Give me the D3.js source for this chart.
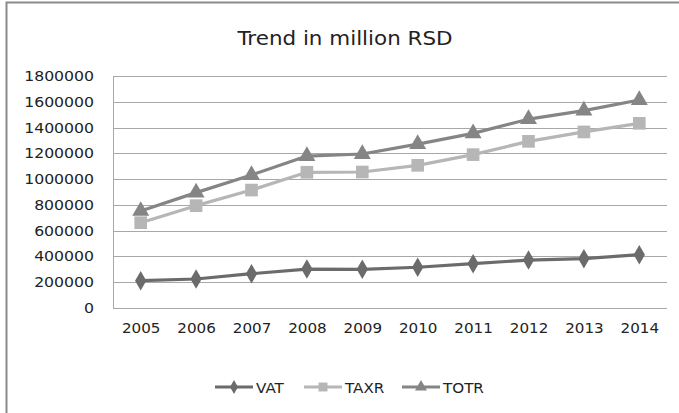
<!DOCTYPE html>
<html><head><meta charset="utf-8">
<script src="https://cdn.jsdelivr.net/npm/d3@7"></script>
<style>body{margin:0;background:#fff}svg{display:block}text{font-family:"DejaVu Sans",sans-serif;fill:#222}</style>
</head><body><div id="chart"></div>
<script>
const years = ["2005","2006","2007","2008","2009","2010","2011","2012","2013","2014"];
const vat  = [212000,225000,266000,302000,300000,316000,344000,372000,383000,414000];
const taxr = [662000,794000,915000,1053000,1055000,1107000,1190000,1293000,1366000,1433000];
const totr = [753000,895000,1032000,1179000,1195000,1272000,1355000,1465000,1531000,1614000];
const yTicks = [0,200000,400000,600000,800000,1000000,1200000,1400000,1600000,1800000];
const seriesNames = ["VAT","TAXR","TOTR"];

const W=679,H=413;
const svg=d3.select("#chart").append("svg").attr("width",W).attr("height",H);
svg.append("rect").attr("width",W).attr("height",H).attr("fill","#fff");
svg.append("path").attr("d","M6.5,413 V2.5 H679").attr("fill","none").attr("stroke","#8a8a8a").attr("stroke-width",2);

const L=113,R=667,T=76,B=308;
const x=d3.scalePoint().domain(years).range([L,R]).padding(0.5);
const y=d3.scaleLinear().domain([0,1800000]).range([B,T]);

function stretch(sel,f){sel.each(function(){const w=this.getComputedTextLength();d3.select(this).attr("textLength",w*f).attr("lengthAdjust","spacingAndGlyphs");});}

const gy=svg.append("g").attr("transform",`translate(${L},0)`)
 .call(d3.axisLeft(y).tickValues(yTicks).tickSize(-(R-L)).tickFormat(d=>String(d)).tickPadding(19));
gy.select(".domain").remove();
gy.selectAll(".tick line").attr("stroke","#a8a8a8").attr("stroke-width",1).attr("shape-rendering","crispEdges");
gy.selectAll(".tick text").attr("font-size",14).attr("fill","#262626").style("font-family","DejaVu Sans").call(stretch,1.12);
svg.append("line").attr("x1",L+0.5).attr("x2",L+0.5).attr("y1",T).attr("y2",B).attr("stroke","#a8a8a8");

const gx=svg.append("g").attr("transform",`translate(0,${B})`).call(d3.axisBottom(x).tickSize(0).tickPadding(15));
gx.select(".domain").attr("stroke","#a8a8a8").attr("d",`M${L},0.5H${R}`);
gx.selectAll(".tick text").attr("font-size",14).attr("fill","#262626").style("font-family","DejaVu Sans").call(stretch,1.08);

svg.append("text").attr("x",345).attr("y",45).attr("text-anchor","middle").attr("font-size",19.5).attr("fill","#262626").text("Trend in million RSD").call(stretch,1.1);

const series=[
 {name:"VAT",vals:vat,color:"#6b6b6b",sym:d3.symbolDiamond,size:110},
 {name:"TAXR",vals:taxr,color:"#b6b6b6",sym:d3.symbolSquare,size:160},
 {name:"TOTR",vals:totr,color:"#858585",sym:d3.symbolTriangle,size:125}
];
const line=d3.line().x((d,i)=>x(years[i])).y(d=>y(d));
series.forEach(s=>{
 svg.append("path").datum(s.vals).attr("d",line).attr("fill","none").attr("stroke",s.color).attr("stroke-width",3.2).attr("stroke-linejoin","round");
 svg.append("g").selectAll("path").data(s.vals).join("path")
  .attr("transform",(d,i)=>`translate(${x(years[i])},${y(d)})`)
  .attr("d",d3.symbol(s.sym,s.size)).attr("fill",s.color);
});

const legX=[215,304,402];
series.forEach((s,i)=>{
 const g=svg.append("g").attr("transform",`translate(${legX[i]},387)`);
 g.append("line").attr("x1",0).attr("x2",38).attr("stroke",s.color).attr("stroke-width",3.2);
 g.append("path").attr("transform","translate(19,0)").attr("d",d3.symbol(s.sym,s.size*0.5)).attr("fill",s.color);
 g.append("text").attr("x",41).attr("y",5.5).attr("font-size",14).attr("fill","#262626").text(s.name).call(stretch,1.08);
});
</script></body></html>
